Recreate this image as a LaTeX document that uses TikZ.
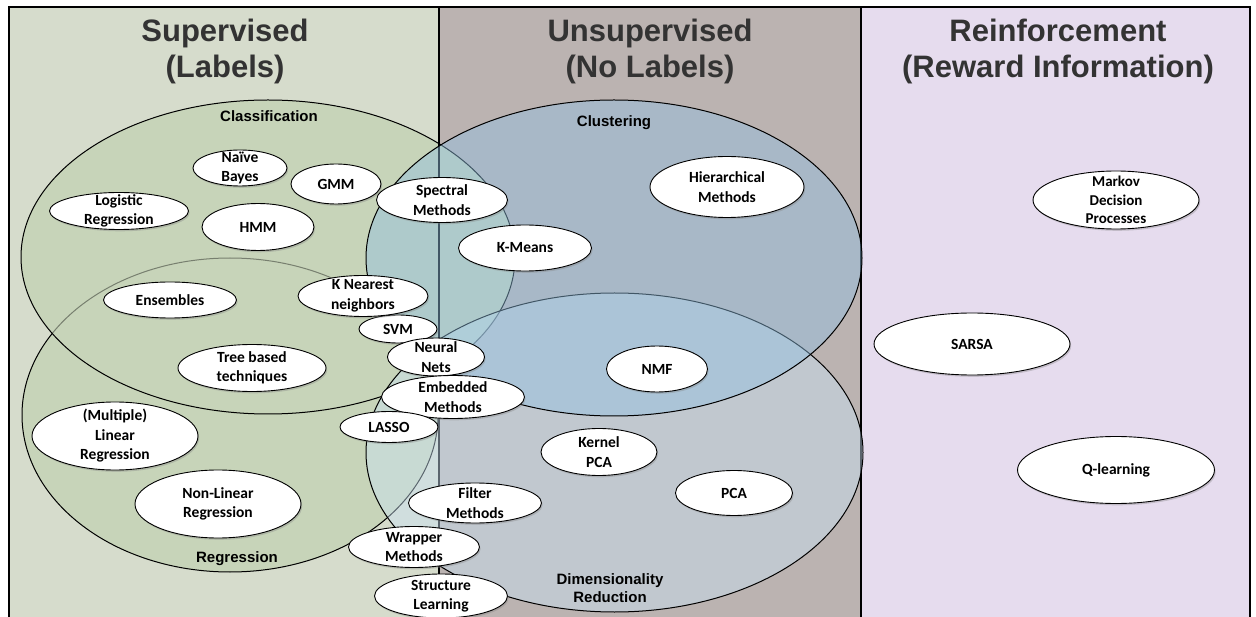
\documentclass[tikz,border=0pt]{standalone}
\usepackage{fontspec}
\setmainfont{Carlito}
\newfontfamily\titlefont{Liberation Sans}
\usetikzlibrary{shapes.geometric,shadows}
\definecolor{greenbg}{RGB}{214,220,204}
\definecolor{brownbg}{RGB}{187,179,177}
\definecolor{lavbg}{RGB}{230,220,238}
\definecolor{greenfill}{RGB}{199,212,185}
\definecolor{clusfill}{RGB}{145,192,226}
\definecolor{dimfill}{RGB}{202,226,244}
\definecolor{titlegray}{RGB}{51,51,51}
\begin{document}
\begin{tikzpicture}[x=1pt,y=-1pt,
  algo/.style={ellipse, draw=black, line width=0.9pt, fill=white,
    inner xsep=-20pt, inner ysep=-12pt, align=center,
    font=\bfseries\fontsize{15.5}{19.5}\selectfont,
    drop shadow={shadow xshift=1.2pt, shadow yshift=-1.8pt, opacity=0.35}},
  paneltitle/.style={font=\titlefont\bfseries\fontsize{31}{36}\selectfont,
    text=titlegray, anchor=base, inner sep=0pt},
  grouplabel/.style={font=\titlefont\bfseries\fontsize{15}{18}\selectfont,
    text=black, anchor=base, inner sep=0pt},
  frameline/.style={line width=2.5pt, draw=black},
  bigset/.style={draw=black, line width=1pt}]
\useasboundingbox (0,0) rectangle (1256,617);
\fill[white] (0,0) rectangle (1256,617);
% panels
\fill[greenbg] (9,7) rectangle (439,617);
\fill[brownbg] (439,7) rectangle (861,617);
\fill[lavbg] (861,7) rectangle (1250,617);
\draw[frameline] (9,617) -- (9,7) -- (1250,7) -- (1250,617);
% supervised sets
\fill[greenfill] (268,257) ellipse [x radius=247pt, y radius=157pt];
\fill[greenfill] (230,415) ellipse [x radius=208pt, y radius=157pt];
\draw[bigset] (230,415) ellipse [x radius=208pt, y radius=157pt];
\fill[greenfill, fill opacity=0.6] (268,257) ellipse [x radius=247pt, y radius=157pt];
\draw[bigset] (268,257) ellipse [x radius=247pt, y radius=157pt];
% dividers
\draw[frameline] (439,7) -- (439,617);
\draw[frameline] (861,7) -- (861,617);
% unsupervised sets
\fill[dimfill, fill opacity=0.45] (614.5,452.5) ellipse [x radius=248.5pt, y radius=159.5pt];
\draw[bigset] (614.5,452.5) ellipse [x radius=248.5pt, y radius=159.5pt];
\fill[clusfill, fill opacity=0.45] (614,258) ellipse [x radius=248pt, y radius=158pt];
\draw[bigset] (614,258) ellipse [x radius=248pt, y radius=158pt];
% titles
\node[paneltitle] (t1a) at (225,42) {Supervised};
\node[paneltitle] (t1b) at (225,78) {(Labels)};
\node[paneltitle] (t2a) at (650,42) {Unsupervised};
\node[paneltitle] (t2b) at (650,78) {(No Labels)};
\node[paneltitle] (t3a) at (1058,42) {Reinforcement};
\node[paneltitle] (t3b) at (1058,78) {(Reward Information)};
% set labels
\node[grouplabel] (lclass) at (269,121.5) {Classification};
\node[grouplabel] (lclus) at (614,127) {Clustering};
\node[grouplabel] (lreg) at (237,562) {Regression};
\node[grouplabel] (ldim1) at (610,584) {Dimensionality};
\node[grouplabel] (ldim2) at (610,602) {Reduction};
% methods
\node[algo, minimum width=94pt, minimum height=36pt] (naive) at (240,168) {Naïve\\Bayes};
\node[algo, minimum width=139pt, minimum height=37pt] (logreg) at (119,211) {Logistic\\Regression};
\node[algo, minimum width=90pt, minimum height=40pt] (gmm) at (336,184) {GMM};
\node[algo, minimum width=112pt, minimum height=47pt] (hmm) at (258,227) {HMM};
\node[algo, minimum width=131pt, minimum height=45pt] (spectral) at (442,200) {Spectral\\Methods};
\node[algo, minimum width=154pt, minimum height=61pt] (hier) at (727,187) {Hierarchical\\Methods};
\node[algo, minimum width=133pt, minimum height=46pt] (kmeans) at (525,248) {K-Means};
\node[algo, minimum width=133pt, minimum height=36pt] (ens) at (170,300) {Ensembles};
\node[algo, minimum width=78pt, minimum height=28pt] (svm) at (398,329) {SVM};
\node[algo, minimum width=130pt, minimum height=41pt] (knn) at (363,296) {K Nearest\\neighbors};
\node[algo, minimum width=97pt, minimum height=38pt] (nn) at (436,357) {Neural\\Nets};
\node[algo, minimum width=148pt, minimum height=47pt] (tree) at (252,368) {Tree based\\techniques};
\node[algo, minimum width=101pt, minimum height=46pt] (nmf) at (657,369) {NMF};
\node[algo, minimum width=143pt, minimum height=43pt] (embed) at (453,397) {Embedded\\Methods};
\node[algo, minimum width=98pt, minimum height=31pt] (lasso) at (389,427) {LASSO};
\node[algo, minimum width=166pt, minimum height=68pt] (linreg) at (115,436) {(Multiple)\\Linear\\Regression};
\node[algo, minimum width=116pt, minimum height=47pt] (kpca) at (599,452) {Kernel\\PCA};
\node[algo, minimum width=117pt, minimum height=45pt] (pca) at (734,493) {PCA};
\node[algo, minimum width=166pt, minimum height=68pt] (nonlin) at (218,504) {Non-Linear\\Regression};
\node[algo, minimum width=133pt, minimum height=40pt] (filter) at (475,503) {Filter\\Methods};
\node[algo, minimum width=131pt, minimum height=41pt] (wrapper) at (414,547) {Wrapper\\Methods};
\node[algo, minimum width=133pt, minimum height=44pt] (struct) at (441,596) {Structure\\Learning};
\node[algo, minimum width=166pt, minimum height=58pt, font=\bfseries\fontsize{15}{18.5}\selectfont] (mdp) at (1116,200) {Markov\\Decision\\Processes};
\node[algo, minimum width=196pt, minimum height=62pt] (sarsa) at (972,344) {SARSA};
\node[algo, minimum width=197pt, minimum height=67pt] (qlearn) at (1116,470) {Q-learning};
\end{tikzpicture}
\end{document}
